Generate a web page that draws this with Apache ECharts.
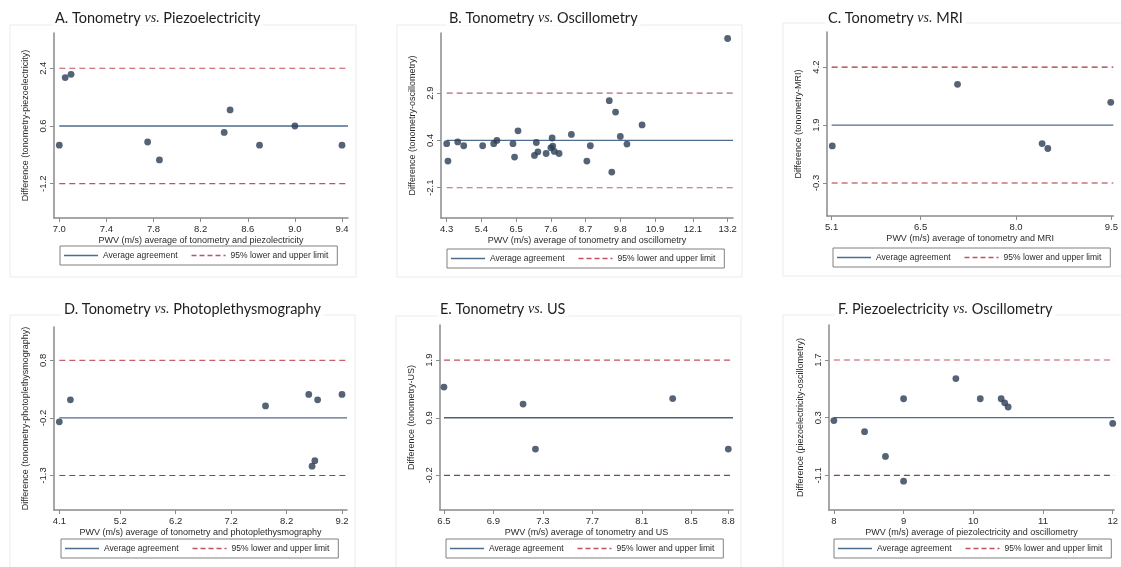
<!DOCTYPE html>
<html>
<head>
<meta charset="utf-8">
<script src="https://cdn.jsdelivr.net/npm/echarts@6/dist/echarts.min.js"></script>
<style>
html,body{margin:0;padding:0;background:#fff;}
#chart{width:1121px;height:567px;}
</style>
</head>
<body>
<div id="chart"></div>
<script>
// ---------- DATA ----------
// A. Tonometry vs. Piezoelectricity
const aX = [7.0, 7.05, 7.1, 7.75, 7.85, 8.4, 8.45, 8.7, 9.0, 9.4];
const aY = [0.0, 2.11, 2.21, 0.1, -0.46, 0.4, 1.1, 0.0, 0.6, 0.0];
const aLimits = [-1.2, 0.6, 2.4];            // lower, mean, upper
const aYLabels = ["-1.2", "0.6", "2.4"];
const aXTicks = [7.0, 7.4, 7.8, 8.2, 8.6, 9.0, 9.4];

// B. Tonometry vs. Oscillometry
const bX = [4.3, 4.34, 4.65, 4.84, 5.44, 5.79, 5.89, 6.40, 6.45, 6.56, 7.08, 7.14, 7.19, 7.45, 7.60, 7.64, 7.66, 7.71, 7.86, 8.25, 8.74, 8.85, 9.45, 9.53, 9.65, 9.80, 10.01, 10.49, 13.2];
const bY = [0.23, -0.69, 0.32, 0.12, 0.12, 0.23, 0.40, 0.23, -0.48, 0.91, -0.39, 0.29, -0.20, -0.29, 0.01, 0.53, 0.10, -0.18, -0.29, 0.72, -0.69, 0.12, 2.50, -1.27, 1.90, 0.61, 0.21, 1.22, 5.79];
const bLimits = [-2.1, 0.4, 2.9];
const bYLabels = ["-2.1", "0.4", "2.9"];
const bXTicks = [4.3, 5.4, 6.5, 7.6, 8.7, 9.8, 10.9, 12.1, 13.2];

// C. Tonometry vs. MRI
const cX = [5.11, 7.08, 8.41, 8.5, 9.49];
const cY = [1.14, 3.53, 1.23, 1.04, 2.83];
const cLimits = [-0.3, 1.95, 4.2];
const cYLabels = ["-0.3", "1.9", "4.2"];
const cXTicks = [5.1, 6.5, 8.0, 9.5];

// D. Tonometry vs. Photoplethysmography
const dX = [4.1, 4.3, 7.82, 8.6, 8.76, 9.2, 8.71, 8.66];
const dY = [-0.32, 0.08, -0.03, 0.18, 0.08, 0.18, -1.03, -1.13];
const dLimits = [-1.3, -0.25, 0.8];
const dYLabels = ["-1.3", "-0.2", "0.8"];
const dXTicks = [4.1, 5.2, 6.2, 7.2, 8.2, 9.2];

// E. Tonometry vs. US
const eX = [6.5, 7.14, 7.24, 8.35, 8.8];
const eY = [1.41, 1.10, 0.28, 1.20, 0.28];
const eLimits = [-0.2, 0.85, 1.9];
const eYLabels = ["-0.2", "0.9", "1.9"];
const eXTicks = [6.5, 6.9, 7.3, 7.7, 8.1, 8.5, 8.8];

// F. Piezoelectricity vs. Oscillometry
const fX = [8.0, 8.44, 8.74, 9.0, 9.0, 9.75, 10.1, 10.4, 10.45, 10.5, 12.0];
const fY = [0.23, -0.04, -0.64, 0.76, -1.24, 1.25, 0.76, 0.76, 0.66, 0.56, 0.16];
const fLimits = [-1.1, 0.3, 1.7];
const fYLabels = ["-1.1", "0.3", "1.7"];
const fXTicks = [8, 9, 10, 11, 12];

const titlesA = ["A. Tonometry ", "B. Tonometry ", "C. Tonometry ", "D. Tonometry ", "E. Tonometry ", "F. Piezoelectricity "];
const titlesB = [" Piezoelectricity", " Oscillometry", " MRI", " Photoplethysmography", " US", " Oscillometry"];
const yNames = ["Difference (tonometry-piezoelectricity)", "Difference (tonometry-oscillometry)", "Difference (tonometry-MRI)", "Difference (tonometry-photoplethysmography)", "Difference (tonometry-US)", "Difference (piezoelectricity-oscillometry)"];
const xNames = ["PWV (m/s) average of tonometry and piezolectricity", "PWV (m/s) average of tonometry and oscillometry", "PWV (m/s) average of tonometry and MRI", "PWV (m/s) average of tonometry and photoplethysmography", "PWV (m/s) average of tonometry and US", "PWV (m/s) average of piezolectricity and oscillometry"];
const legendNames = ["Average agreement", "95% lower and upper limit"];

// ---------- LAYOUT / STYLE ----------
const panelData = [
  {x: aX, y: aY, lim: aLimits, yl: aYLabels, xt: aXTicks, dec: 1},
  {x: bX, y: bY, lim: bLimits, yl: bYLabels, xt: bXTicks, dec: 1},
  {x: cX, y: cY, lim: cLimits, yl: cYLabels, xt: cXTicks, dec: 1},
  {x: dX, y: dY, lim: dLimits, yl: dYLabels, xt: dXTicks, dec: 1},
  {x: eX, y: eY, lim: eLimits, yl: eYLabels, xt: eXTicks, dec: 1},
  {x: fX, y: fY, lim: fLimits, yl: fYLabels, xt: fXTicks, dec: 0}
];
const layout = [
  {grid: [54, 33, 294, 185], xr: [6.955, 9.451], yr: [-2.27, 3.50], title: [52, 9], legend: [60, 246], frame: [10, 25, 346, 252],
   meanC: '#4d6d8e', upC: '#c2525e', loC: '#c2525e'},
  {grid: [441, 33, 292, 185], xr: [4.12, 13.37], yr: [-3.70, 6.08], title: [446, 9], legend: [447, 249], frame: [397, 25, 345, 252],
   meanC: '#4d6d8e', upC: '#a86a70', loC: '#a86a70'},
  {grid: [827, 32, 290, 184], xr: [5.027, 9.53], yr: [-1.58, 5.56], title: [825, 9], legend: [833, 248], frame: [783, 23, 345, 253],
   meanC: '#4d6d8e', upC: '#a8323e', loC: '#a8323e'},
  {grid: [54, 327, 293, 183], xr: [4.004, 9.29], yr: [-1.93, 1.41], title: [61, 300], legend: [61, 539], frame: [10, 315, 345, 260],
   meanC: '#4d6d8e', upC: '#c8606c', loC: '#7a4a4e'},
  {grid: [440, 325, 293, 185], xr: [6.468, 8.838], yr: [-0.83, 2.54], title: [437, 300], legend: [446, 539], frame: [396, 316, 345, 260],
   meanC: '#50606e', upC: '#c2525e', loC: '#7a4a4e'},
  {grid: [829, 325, 288, 185], xr: [7.93, 12.02], yr: [-1.94, 2.55], title: [835, 300], legend: [834, 539], frame: [783, 315, 345, 260],
   meanC: '#4d6d8e', upC: '#c2525e', loC: '#7a4a4e'}
];

const FONT = 'Liberation Sans, Arial, sans-serif';
const TXT = '#2a2a2a';
const AXC = '#8a8a8a';
const DOT = '#2a3c55';
const ICON_SOLID = 'path://M0,0H34V1.6H0Z';
const ICON_DASH = 'path://M0,0H5V1.6H0Z M8,0H13V1.6H8Z M16,0H21V1.6H16Z M24,0H29V1.6H24Z M32,0H34V1.6H32Z';

const option = {
  backgroundColor: '#fff',
  animation: false,
  title: [], grid: [], xAxis: [], yAxis: [], series: [], legend: [], graphic: []
};

panelData.forEach((p, i) => {
  const L = layout[i];
  const [gl, gt, gw, gh] = L.grid;
  option.graphic.push({
    type: 'rect', shape: {x: L.frame[0], y: L.frame[1], width: L.frame[2], height: L.frame[3]},
    style: {fill: 'none', stroke: '#ebebeb', lineWidth: 1}, z: -10, silent: true
  });
  option.title.push({
    left: L.title[0], top: L.title[1], padding: [0, 3],
    backgroundColor: '#fff',
    text: '{a|' + titlesA[i] + '}{i|vs.}{a|' + titlesB[i] + '}',
    textStyle: {
      fontWeight: 'normal',
      rich: {
        a: {fontFamily: 'Lato, Open Sans, sans-serif', fontWeight: 'normal', fontSize: 14.5, color: '#1e1e1e', lineHeight: 18},
        i: {fontFamily: 'Liberation Serif, serif', fontWeight: 'normal', fontStyle: 'italic', fontSize: 14, color: '#1e1e1e', lineHeight: 18}
      }
    }
  });
  option.grid.push({left: gl, top: gt, width: gw, height: gh, containLabel: false});
  option.xAxis.push({
    type: 'value', gridIndex: i, min: L.xr[0], max: L.xr[1],
    name: xNames[i], nameLocation: 'middle', nameGap: 18,
    nameTextStyle: {fontFamily: FONT, fontSize: 9, color: TXT},
    axisLine: {show: true, onZero: false, lineStyle: {color: AXC, width: 1.5}},
    axisTick: {show: true, length: 4, customValues: p.xt, lineStyle: {color: AXC}},
    axisLabel: {customValues: p.xt, margin: 6, fontFamily: FONT, fontSize: 9.5, color: TXT,
      formatter: v => v.toFixed(p.dec)},
    splitLine: {show: false}
  });
  option.yAxis.push({
    type: 'value', gridIndex: i, min: L.yr[0], max: L.yr[1],
    name: yNames[i], nameLocation: 'middle', nameGap: 24, nameRotate: 90,
    nameTextStyle: {fontFamily: FONT, fontSize: 9, color: TXT},
    axisLine: {show: true, onZero: false, lineStyle: {color: AXC, width: 1.5}},
    axisTick: {show: true, length: 4, customValues: p.lim, lineStyle: {color: AXC}},
    axisLabel: {customValues: p.lim, rotate: 90, margin: 6, fontFamily: FONT, fontSize: 9.5, color: TXT,
      formatter: v => {
        for (let k = 0; k < p.lim.length; k++) if (Math.abs(p.lim[k] - v) < 1e-6) return p.yl[k];
        return '';
      }},
    splitLine: {show: false}
  });
  const x0 = p.xt[0], x1 = L.xr[1];
  option.series.push({
    type: 'line', name: legendNames[0], xAxisIndex: i, yAxisIndex: i, symbol: 'none', silent: true,
    data: [[x0, p.lim[1]], [x1, p.lim[1]]],
    lineStyle: {color: L.meanC, width: 1.3}, itemStyle: {color: L.meanC}, z: 2
  });
  option.series.push({
    type: 'line', name: legendNames[1], xAxisIndex: i, yAxisIndex: i, symbol: 'none', silent: true,
    data: [[x0, p.lim[2]], [x1, p.lim[2]]],
    lineStyle: {color: L.upC, width: 1.2, type: [6, 4]}, itemStyle: {color: L.upC}, z: 2
  });
  option.series.push({
    type: 'line', name: legendNames[1], xAxisIndex: i, yAxisIndex: i, symbol: 'none', silent: true,
    data: [[x0, p.lim[0]], [x1, p.lim[0]]],
    lineStyle: {color: L.loC, width: 1.2, type: [6, 4]}, itemStyle: {color: L.loC}, z: 2
  });
  option.series.push({
    type: 'scatter', name: 'obs' + i, xAxisIndex: i, yAxisIndex: i,
    data: p.x.map((v, k) => [v, p.y[k]]),
    symbol: 'circle', symbolSize: 6.8, itemStyle: {color: DOT}, z: 5, silent: true
  });
  option.legend.push({
    show: true,
    left: L.legend[0], top: L.legend[1], orient: 'horizontal',
    borderColor: '#808080', borderWidth: 1, borderRadius: 0, backgroundColor: '#fff',
    padding: [5, 9, 5, 4], itemWidth: 34, itemHeight: 8, itemGap: 14,
    symbolKeepAspect: true,
    selectedMode: false,
    textStyle: {fontFamily: FONT, fontSize: 8.5, color: TXT},
    data: [
      {name: legendNames[0], icon: ICON_SOLID, itemStyle: {color: '#4d6d8e', borderWidth: 0}},
      {name: legendNames[1], icon: ICON_DASH, itemStyle: {color: '#c2525e', borderWidth: 0}}
    ]
  });
});

const chart = echarts.init(document.getElementById('chart'), null, {renderer: 'canvas'});
chart.setOption(option);
</script>
</body>
</html>
